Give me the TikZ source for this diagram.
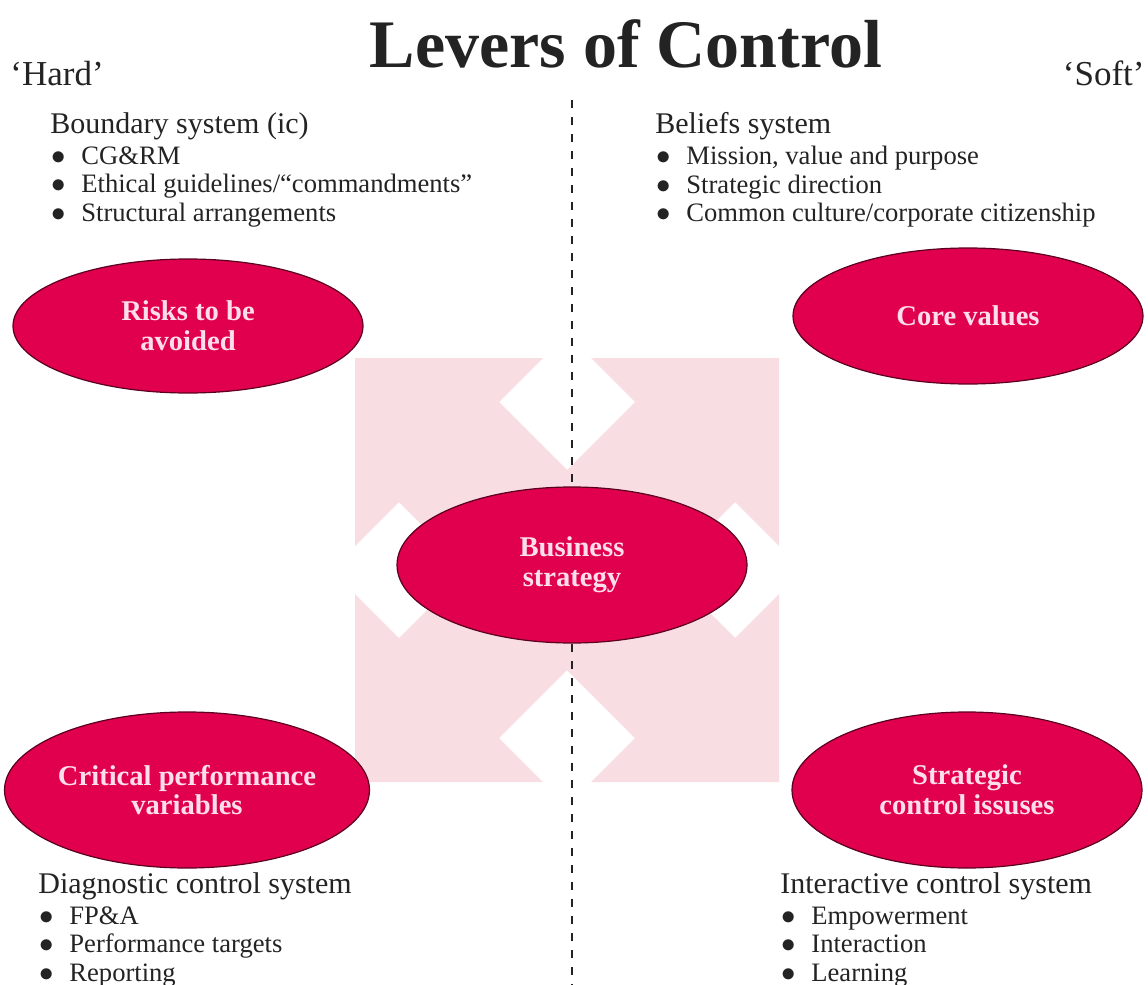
\documentclass[tikz,border=0pt]{standalone}
\usepackage{fontspec}
\setmainfont{Liberation Serif}
\usepackage{tikz}
\usetikzlibrary{shapes.geometric, positioning}
\definecolor{levred}{RGB}{224,0,78}
\definecolor{levedge}{RGB}{90,0,30}
\definecolor{levtext}{RGB}{255,222,235}
\definecolor{levpink}{RGB}{248,221,226}
\definecolor{levink}{RGB}{35,35,35}
\newcommand{\lvhead}[1]{{\fontsize{15}{14.3}\selectfont #1}}
\newcommand{\lvitem}[1]{\makebox[15.5pt][l]{\hspace{0.5pt}$\bullet$}#1}
\tikzset{
  lever/.style={ellipse, draw=levedge, line width=0.6pt, fill=levred, text=levtext,
    minimum width=175pt, minimum height=78pt, inner sep=0pt, align=center,
    font=\fontsize{14.3}{14.8}\selectfont\bfseries},
  leverlist/.style={anchor=north west, inner sep=0pt, align=left, text=levink,
    font=\fontsize{13.3}{14.2}\selectfont},
  sidelabel/.style={inner sep=0pt, text=levink, font=\fontsize{17.5}{20}\selectfont},
  divider/.style={line width=1.1pt, dash pattern=on 4pt off 4.5pt, color=levink},
}

\begin{document}
\begin{tikzpicture}[x=0.5pt, y=-0.5pt]
  \useasboundingbox (0,0) rectangle (1148,985);

  % four diagonal arrows behind the centre
  \fill[levpink] (355,358) -- (543,358) -- (499,402) -- (567,470) -- (635,402)
    -- (591,358) -- (779,358) -- (779,546) -- (735,502) -- (667,570)
    -- (735,638) -- (779,594) -- (779,782) -- (591,782) -- (635,738)
    -- (567,670) -- (499,738) -- (543,782) -- (355,782) -- (355,594)
    -- (399,638) -- (467,570) -- (399,502) -- (355,546) -- cycle;

  \coordinate (divtop) at (572,100);
  \coordinate (divbot) at (572,985);
  \draw[divider] (divtop) -- (divbot);

  \node[inner sep=0pt, anchor=base, text=levink,
    font=\fontsize{34}{40}\selectfont\bfseries] (title) at (626,68) {Levers of Control};
  \node[sidelabel, anchor=base west] (hard) at (10,85) {`Hard'};
  \node[sidelabel, anchor=base east] (soft) at (1145,85) {`Soft'};

  \node[lever, minimum height=67pt] (risks) at (188,326) {Risks to be\\avoided};
  \node[lever, minimum height=68pt] (core) at (968,316) {Core values};
  \node[lever] (business) at (572,565) {Business\\strategy};
  \node[lever] (critical) at (187,790) {Critical performance\\variables};
  \node[lever] (strategic) at (967,790) {Strategic\\control issuses};

  \node[leverlist] (boundary) at (50,112)
    {\lvhead{Boundary system (ic)}\\[1.4pt]\lvitem{CG\&RM}\\
     \lvitem{Ethical guidelines/``commandments''}\\\lvitem{Structural arrangements}};
  \node[leverlist] (beliefs) at (655,112)
    {\lvhead{Beliefs system}\\[1.4pt]\lvitem{Mission, value and purpose}\\
     \lvitem{Strategic direction}\\\lvitem{Common culture/corporate citizenship}};
  \node[leverlist] (diagnostic) at (38,872)
    {\lvhead{Diagnostic control system}\\[1.4pt]\lvitem{FP\&A}\\
     \lvitem{Performance targets}\\\lvitem{Reporting}};
  \node[leverlist] (interactive) at (780,872)
    {\lvhead{Interactive control system}\\[1.4pt]\lvitem{Empowerment}\\
     \lvitem{Interaction}\\\lvitem{Learning}};
\end{tikzpicture}
\end{document}
